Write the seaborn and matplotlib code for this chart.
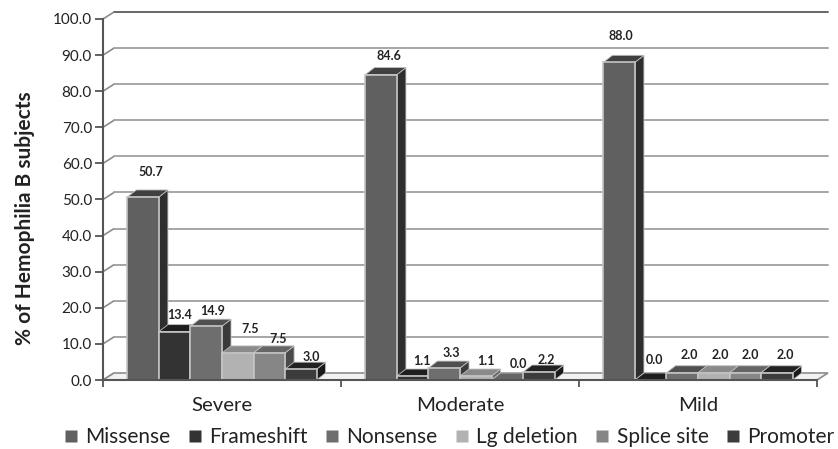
import matplotlib
matplotlib.use("Agg")
import matplotlib.pyplot as plt
import matplotlib.transforms as mtransforms
from matplotlib.lines import Line2D
from matplotlib.patches import Polygon
import pandas as pd
import seaborn as sns

severity = ["Severe", "Moderate", "Mild"]
mutations = ["Missense", "Frameshift", "Nonsense", "Lg deletion", "Splice site", "Promoter"]
missense = [50.7, 84.6, 88.0]
frameshift = [13.4, 1.1, 0.0]
nonsense = [14.9, 3.3, 2.0]
lg_deletion = [7.5, 1.1, 2.0]
splice_site = [7.5, 0.0, 2.0]
promoter = [3.0, 2.2, 2.0]
y_ticks = [0, 10, 20, 30, 40, 50, 60, 70, 80, 90, 100]

front = ["#606060", "#333333", "#6e6e6e", "#b2b2b2", "#868686", "#3c3c3c"]
top_c = ["#404040", "#1e1e1e", "#505050", "#8a8a8a", "#666666", "#222222"]
side_c = ["#2e2e2e", "#1a1a1a", "#3a3a3a", "#6a6a6a", "#4a4a4a", "#1a1a1a"]

# label offsets (pixels) from the top-centre of each front face, per mutation, per severity
label_dx = [[8, 8, 2], [5, 9, 4], [6, 7, 7], [12, 10, 7], [9, 11, 5], [10, 8, 9]]
label_dy = [[25, 19, 26], [17, 15, 20], [15, 15, 18], [24, 15, 18], [14, 16, 18], [12, 12, 18]]

series = [missense, frameshift, nonsense, lg_deletion, splice_site, promoter]
df = pd.DataFrame(
    [(s, m, vals[i]) for m, vals in zip(mutations, series) for i, s in enumerate(severity)],
    columns=["severity", "mutation", "value"],
)

sns.set_theme(style="white")
plt.rcParams["font.family"] = ["Lato", "DejaVu Sans"]

W, H = 838, 449
fig = plt.figure(figsize=(W / 100, H / 100), dpi=100)
ax = fig.add_axes([103 / W, (H - 380) / H, 714 / W, 361 / H])
ax.patch.set_alpha(0)

sns.barplot(
    data=df, x="severity", y="value", hue="mutation", order=severity, hue_order=mutations,
    palette=front, saturation=1, width=0.795, legend=False, ax=ax,
    edgecolor="#c4c4c4", linewidth=1.2, zorder=4,
)
ax.set_xlim(-0.5, 2.5)
ax.set_ylim(0, 100)

# back wall + floor, shifted in pixels from the data positions
wall = mtransforms.Affine2D().translate(11, 7)
for t in y_ticks:
    col, lw = ("#666666", 1.4) if t == 100 else ("#a6a6a6", 1.4)
    if t > 0:
        ax.plot([-0.5, 2.5], [t, t], color=col, lw=lw, transform=ax.transData + wall,
                clip_on=False, zorder=1)
    x0, y0 = ax.transData.transform((-0.5, t))
    ax.add_patch(Polygon([(x0, y0), (x0 + 11, y0 + 7)], closed=False, fill=False, ec="#8c8c8c",
                         lw=1.2, transform=mtransforms.IdentityTransform(), clip_on=False, zorder=1))

(fx0, fy0), (fx1, fy1) = ax.transData.transform([(-0.5, 0), (2.5, 0)])
ax.add_patch(Polygon([(fx0, fy0), (fx1, fy1), (fx1 + 11, fy1 + 7), (fx0 + 11, fy0 + 7)],
                     closed=True, fc="#f2f2f2", ec="#8c8c8c", lw=1.2,
                     transform=mtransforms.IdentityTransform(), clip_on=False, zorder=1.5))

# 3-D faces derived from the seaborn bars
DX, DY = 9, 7
for k, cont in enumerate(ax.containers):
    for j, bar in enumerate(cont):
        bx, val, bw = bar.get_x(), bar.get_height(), bar.get_width()
        (x0, y0), (x1, y1) = ax.transData.transform([(bx, 0), (bx + bw, val)])
        ident = mtransforms.IdentityTransform()
        ax.add_patch(Polygon([(x1, y0), (x1 + DX, y0 + DY), (x1 + DX, y1 + DY), (x1, y1)],
                             closed=True, fc=side_c[k], ec="#bdbdbd", lw=0.6, transform=ident,
                             clip_on=False, zorder=3))
        ax.add_patch(Polygon([(x0, y1), (x1, y1), (x1 + DX, y1 + DY), (x0 + DX, y1 + DY)],
                             closed=True, fc=top_c[k], ec="#bdbdbd", lw=0.6, transform=ident,
                             clip_on=False, zorder=3))
        ax.annotate(f"{val:.1f}", xy=(bx + bw / 2, val),
                    xytext=(label_dx[k][j], label_dy[k][j]), textcoords="offset pixels",
                    ha="center", va="center", fontsize=9, fontweight="bold", color="#222222",
                    zorder=6, annotation_clip=False)

for side in ["top", "right"]:
    ax.spines[side].set_visible(False)
for side in ["left", "bottom"]:
    ax.spines[side].set_color("#555555")
    ax.spines[side].set_linewidth(1.5)
    ax.spines[side].set_zorder(5)

ax.set_yticks(y_ticks)
ax.set_yticklabels([f"{t:.1f}" for t in y_ticks], fontsize=11, color="#222222")
ax.tick_params(axis="y", left=True, length=6, width=1.3, color="#555555", pad=2)
ax.set_xticks([0, 1, 2])
ax.set_xticklabels(severity, fontsize=14.7, color="#222222")
ax.set_xticks([-0.5, 0.5, 1.5, 2.5], minor=True)
ax.tick_params(axis="x", which="major", length=0, pad=12)
ax.tick_params(axis="x", which="minor", bottom=True, length=5, width=1.3, color="#555555")
ax.set_xlabel("")
ax.set_ylabel("% of Hemophilia B subjects", fontsize=15, fontweight="bold", color="#222222")
ax.yaxis.set_label_coords(-0.095, 0.449)

handles = [Line2D([], [], ls="", marker="s", ms=8, mfc=c, mec="none") for c in front]
fig.legend(handles, mutations, loc="lower left", bbox_to_anchor=(53 / W, -0.012), ncol=6,
           frameon=False, fontsize=15, labelcolor="#222222", handletextpad=0.2,
           columnspacing=0.66, handlelength=1.0, borderpad=0.25, borderaxespad=0.1)

fig.savefig("out.png", dpi=100, facecolor="white")
